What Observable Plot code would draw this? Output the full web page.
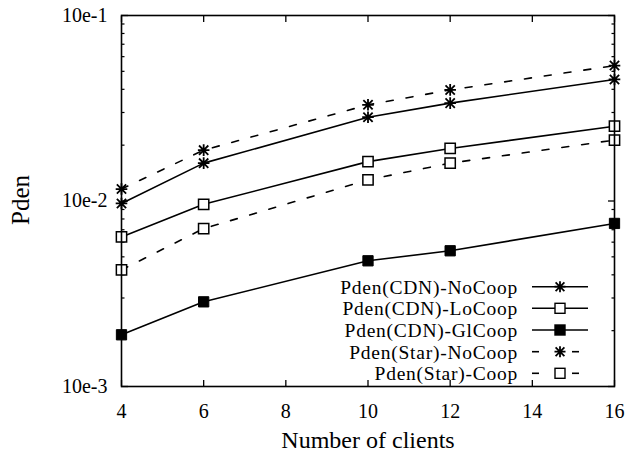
<!DOCTYPE html>
<html><head><meta charset="utf-8">
<script src="https://cdn.jsdelivr.net/npm/d3@7"></script>
<script src="https://cdn.jsdelivr.net/npm/@observablehq/plot@0.6"></script>
<style>body{margin:0;background:#fff}#chart{width:627px;height:455px}</style>
</head><body><div id="chart"></div>
<script>
const clients = [4, 6, 10, 12, 16];
const cdnNoCoop = [0.0097, 0.0160, 0.0283, 0.0337, 0.0452];
const cdnLoCoop = [0.0064, 0.0096, 0.0163, 0.0192, 0.0253];
const cdnGlCoop = [0.0019, 0.00286, 0.00476, 0.00539, 0.00757];
const starNoCoop = [0.0116, 0.0188, 0.0330, 0.0397, 0.0537];
const starCoop = [0.00425, 0.0071, 0.0130, 0.0160, 0.0213];
const seriesNames = ["Pden(CDN)-NoCoop", "Pden(CDN)-LoCoop", "Pden(CDN)-GlCoop", "Pden(Star)-NoCoop", "Pden(Star)-Coop"];
const xTickValues = [4, 6, 8, 10, 12, 14, 16];
const yTickValues = [0.001, 0.01, 0.1];
const yTickLabels = ["10e-3", "10e-2", "10e-1"];
const yMinorTicks = [0.002, 0.003, 0.004, 0.005, 0.006, 0.007, 0.008, 0.009, 0.02, 0.03, 0.04, 0.05, 0.06, 0.07, 0.08, 0.09];
const xLabel = "Number of clients";
const yLabel = "Pden";

const starSymbol = {
  draw(ctx, size) {
    const r = Math.sqrt(size / Math.PI);
    const d = r * 0.8;
    ctx.moveTo(-r, 0); ctx.lineTo(r, 0);
    ctx.moveTo(0, -r); ctx.lineTo(0, r);
    ctx.moveTo(-d, -d); ctx.lineTo(d, d);
    ctx.moveTo(-d, d); ctx.lineTo(d, -d);
  }
};

const series = [
  {name: seriesNames[0], values: cdnNoCoop, dash: null, marker: "star"},
  {name: seriesNames[1], values: cdnLoCoop, dash: null, marker: "open"},
  {name: seriesNames[2], values: cdnGlCoop, dash: null, marker: "filled"},
  {name: seriesNames[3], values: starNoCoop, dash: "7,13", marker: "star"},
  {name: seriesNames[4], values: starCoop, dash: "7,13", marker: "open"}
];

const marks = [];
for (const s of series) {
  const rows = clients.map((c, i) => ({x: c, y: s.values[i]}));
  marks.push(Plot.line(rows, {x: "x", y: "y", stroke: "#000", strokeWidth: 1.6, strokeDasharray: s.dash}));
  if (s.marker === "star") {
    marks.push(Plot.dot(rows, {x: "x", y: "y", symbol: starSymbol, r: 5.8, stroke: "#000", strokeWidth: 1.8, fill: "none"}));
  } else if (s.marker === "open") {
    marks.push(Plot.dot(rows, {x: "x", y: "y", symbol: "square", r: 5.8, stroke: "#000", strokeWidth: 1.5, fill: "#fff"}));
  } else {
    marks.push(Plot.dot(rows, {x: "x", y: "y", symbol: "square", r: 5.8, stroke: "#000", strokeWidth: 1, fill: "#000"}));
  }
}

const chart = Plot.plot({
  width: 627, height: 455,
  marginLeft: 121, marginRight: 13, marginTop: 15, marginBottom: 69,
  style: {fontFamily: "'Liberation Serif', 'Times New Roman', serif", color: "#000", background: "#fff", overflow: "visible"},
  x: {domain: [4, 16]},
  y: {type: "log", domain: [0.001, 0.1]},
  marks: [
    Plot.axisX(xTickValues, {anchor: "bottom", tickSize: -6, tickPadding: 23, fontSize: 20, label: null, strokeWidth: 1.3}),
    Plot.axisX(xTickValues, {anchor: "top", tickSize: -6, tickFormat: () => "", label: null, strokeWidth: 1.3}),
    Plot.axisY(yTickValues, {anchor: "left", tickSize: -7, tickPadding: 21, fontSize: 20, label: null, strokeWidth: 1.3,
      tickFormat: d => yTickLabels[yTickValues.indexOf(d)]}),
    Plot.axisY(yTickValues, {anchor: "right", tickSize: -7, tickFormat: () => "", label: null, strokeWidth: 1.3}),
    Plot.axisY(yMinorTicks, {anchor: "left", tickSize: -3.5, tickFormat: () => "", label: null, strokeWidth: 1.2}),
    Plot.axisY(yMinorTicks, {anchor: "right", tickSize: -3.5, tickFormat: () => "", label: null, strokeWidth: 1.2}),
    ...marks,
    Plot.frame({stroke: "#000", strokeWidth: 1.6}),
    Plot.text([xLabel], {frameAnchor: "bottom", dy: 54, lineAnchor: "middle", textAnchor: "middle", fontSize: 24, fill: "#000"}),
    Plot.text([yLabel], {frameAnchor: "left", dx: -101, dy: -1, rotate: -90, lineAnchor: "middle", textAnchor: "middle", fontSize: 25, fill: "#000"})
  ]
});

// Legend inside the plot
const svg = d3.select(chart);
const legendRows = [286.7, 308.3, 330, 351.7, 373.3];
const g = svg.append("g").attr("font-family", "'Liberation Serif', 'Times New Roman', serif").attr("font-size", 19.5).attr("letter-spacing", "0.75px");
series.forEach((s, i) => {
  const y = legendRows[i];
  g.append("text").attr("x", 518).attr("y", y).attr("dy", "0.35em").attr("text-anchor", "end").attr("fill", "#000").text(s.name);
  if (s.dash) {
    g.append("line").attr("x1", 532).attr("x2", 539).attr("y1", y).attr("y2", y).attr("stroke", "#000").attr("stroke-width", 1.6);
    g.append("line").attr("x1", 572).attr("x2", 579).attr("y1", y).attr("y2", y).attr("stroke", "#000").attr("stroke-width", 1.6);
  } else {
    g.append("line").attr("x1", 532).attr("x2", 588).attr("y1", y).attr("y2", y).attr("stroke", "#000").attr("stroke-width", 1.6);
  }
  const path = d3.path();
  if (s.marker === "star") {
    starSymbol.draw(path, Math.PI * 5.5 * 5.5);
    g.append("path").attr("transform", `translate(560,${y})`).attr("d", path.toString()).attr("stroke", "#000").attr("stroke-width", 1.8).attr("fill", "none");
  } else {
    g.append("rect").attr("x", 555).attr("y", y - 5).attr("width", 10).attr("height", 10)
      .attr("fill", s.marker === "filled" ? "#000" : "#fff").attr("stroke", "#000").attr("stroke-width", 1.4);
  }
});

document.getElementById("chart").appendChild(chart);
</script>
</body></html>
